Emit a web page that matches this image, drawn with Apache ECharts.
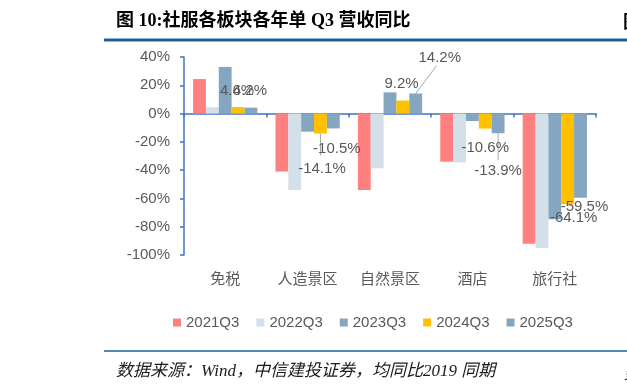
<!DOCTYPE html>
<html><head><meta charset="utf-8">
<script src="https://cdn.jsdelivr.net/npm/echarts@6/dist/echarts.min.js"></script>
<style>html,body{margin:0;padding:0;background:#fff}#c{width:627px;height:385px}</style>
</head><body><div id="c"></div>
<script>
const categories = ['免税', '人造景区', '自然景区', '酒店', '旅行社'];
const seriesNames = ['2021Q3', '2022Q3', '2023Q3', '2024Q3', '2025Q3'];
const v2021 = [24.4, -41.0, -54.0, -34.0, -92.0];
const v2022 = [4.5, -54.0, -38.7, -34.5, -95.0];
const v2023 = [33.0, -12.8, 15.0, -5.3, -74.8];
const v2024 = [4.6, -14.1, 9.2, -10.6, -64.1];
const v2025 = [4.2, -10.5, 14.2, -13.9, -59.5];
const yTicks = [-100, -80, -60, -40, -20, 0, 20, 40];

const colors = ['#FF8080', '#D3DFE9', '#84A6C0', '#FFC000', '#84A6C0'];
// label nudges (dx, dy) for the labelled series
const nudge2024 = [[-1, -3.5], [1.5, 23], [-1.3, -4.7], [0, 7], [6, 1]];
const nudge2025 = [[-1, -4], [3.5, 8], [24, -23.6], [0, 25], [4, -3]];
// leader lines: [seriesIndex, categoryIndex, dx, dy] end point relative to bar end
const leaders = [[3, 1, 0, 22], [4, 2, 21, -28], [4, 3, 0, 27]];

const FONT = 'Liberation Sans, Noto Sans CJK SC, sans-serif';
const labelColor = '#595959';
const BAR_FRACTION = 0.78;

function plain(vals) { return vals.map(v => ({ value: v })); }
function labelled(vals) {
  return vals.map(v => ({ value: v, label: { position: v < 0 ? 'bottom' : 'top' } }));
}

const allVals = [v2021, v2022, v2023, v2024, v2025];
const series = allVals.map((vals, k) => {
  const s = {
    name: seriesNames[k], type: 'bar', barGap: 0, barCategoryGap: '22%',
    itemStyle: { color: colors[k] },
    data: plain(vals)
  };
  if (k >= 3) {
    const nudge = k === 3 ? nudge2024 : nudge2025;
    s.data = labelled(vals);
    s.label = { show: true, distance: 5, formatter: p => p.value.toFixed(1) + '%',
      color: labelColor, fontSize: 15, fontFamily: FONT };
    s.labelLayout = p => ({ dx: nudge[p.dataIndex][0], dy: nudge[p.dataIndex][1] });
  }
  return s;
});

const chart = echarts.init(document.getElementById('c'), null, { renderer: 'canvas' });
const baseGraphic = [
  { type: 'line', shape: { x1: 104, y1: 40, x2: 627, y2: 40 }, style: { stroke: '#1F5E96', lineWidth: 3 } },
  { type: 'line', shape: { x1: 104, y1: 351, x2: 627, y2: 351 }, style: { stroke: '#1F5E96', lineWidth: 1.5 } },
  { type: 'text', left: 116, top: 363, style: { text: '数据来源：Wind，中信建投证券，均同比2019 同期',
    font: 'italic 17px Liberation Serif, Noto Sans CJK SC, serif', fill: '#1a1a1a' } },
  { type: 'text', x: 623, y: 12, style: { text: '图', font: 'bold 18px Noto Sans CJK SC', fill: '#000' } },
  { type: 'text', x: 624, y: 364, style: { text: '数', font: 'italic 17px Noto Sans CJK SC', fill: '#1a1a1a' } }
];
chart.setOption({
  animation: false,
  title: { text: '图 10:社服各板块各年单 Q3 营收同比', left: 116, top: 12, padding: 0,
    textStyle: { fontSize: 18, fontWeight: 'bold', color: '#000', fontFamily: 'Liberation Serif, Noto Sans CJK SC, serif' } },
  grid: { left: 184, right: 31, top: 57, bottom: 130, containLabel: false },
  legend: { data: seriesNames, left: 168, top: 310, itemWidth: 8, itemHeight: 8, itemGap: 17,
    icon: 'rect', textStyle: { fontSize: 15, color: labelColor, fontFamily: FONT } },
  xAxis: [
    { type: 'category', data: categories, position: 'bottom',
      axisLine: { show: false, onZero: false }, axisTick: { show: false },
      axisLabel: { fontSize: 15, color: labelColor, fontFamily: FONT, margin: 17 } },
    { type: 'category', data: categories, position: 'bottom',
      axisLine: { show: true, onZero: true, lineStyle: { color: '#4472C4', width: 1.5 } },
      axisTick: { show: true, length: 4, lineStyle: { color: '#4472C4', width: 1.5 } },
      axisLabel: { show: false } }
  ],
  yAxis: { type: 'value', min: yTicks[0], max: yTicks[yTicks.length - 1], interval: 20,
    axisLine: { show: true, lineStyle: { color: '#4472C4', width: 1.5 } },
    axisTick: { show: true, length: 4, lineStyle: { color: '#4472C4', width: 1.5 } },
    splitLine: { show: false },
    axisLabel: { formatter: '{value}%', fontSize: 15, color: labelColor, fontFamily: FONT, margin: 14 } },
  graphic: baseGraphic,
  series: series
});

// leader lines from bar ends to their moved labels
const c0 = chart.convertToPixel({ xAxisIndex: 0 }, categories[0]);
const c1 = chart.convertToPixel({ xAxisIndex: 0 }, categories[1]);
const barW = (c1 - c0) * BAR_FRACTION / seriesNames.length;
const leaderGraphics = leaders.map(([si, ci, dx, dy]) => {
  const cx = chart.convertToPixel({ xAxisIndex: 0 }, categories[ci]) + (si - 2) * barW;
  const y = chart.convertToPixel({ yAxisIndex: 0 }, allVals[si][ci]);
  return { type: 'line', shape: { x1: cx, y1: y, x2: cx + dx, y2: y + dy },
    style: { stroke: '#A6A6A6', lineWidth: 1 }, z: 1 };
});
chart.setOption({ graphic: baseGraphic.concat(leaderGraphics) });
</script></body></html>
